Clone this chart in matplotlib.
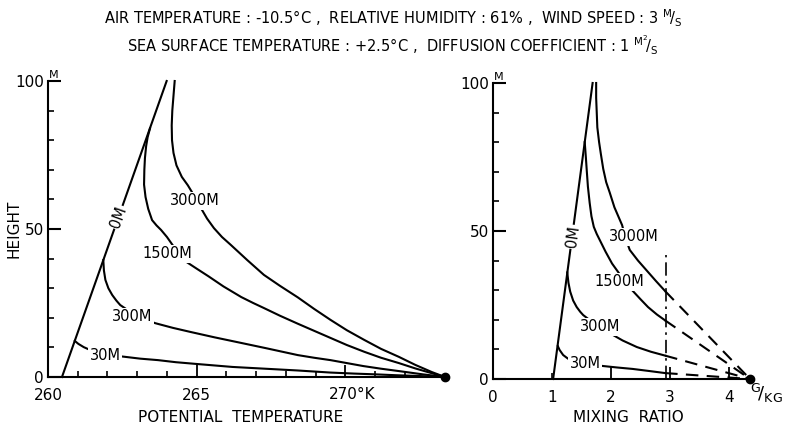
import matplotlib
matplotlib.use("Agg")
import matplotlib.pyplot as plt
from matplotlib.ticker import FixedLocator, FixedFormatter
import matplotlib.transforms as mtrans

plt.rcParams['font.family'] = ['DejaVu Sans']
plt.rcParams['mathtext.default'] = 'regular'

# ---------------- data: potential temperature panel (K, m) ----------------
pt_0m_T = [260.47, 263.99]
pt_0m_h = [0, 100]
pt_30_T = [260.9, 261.02, 261.2, 261.4, 261.6, 262.0, 262.6, 263.1, 263.7, 264.3, 265.0, 265.6, 266.2,
           267.3, 268.4, 269.5, 270.3, 271.0, 271.7, 272.3, 272.8, 273.35]
pt_30_h = [12.2, 11.2, 10.1, 9.2, 8.4, 7.5, 6.8, 6.2, 5.7, 5.0, 4.4, 3.9, 3.4,
           2.8, 2.2, 1.5, 1.15, 0.9, 0.6, 0.4, 0.2, 0]
pt_300_T = [261.86, 261.88, 261.93, 262.03, 262.16, 262.3, 262.43, 262.8, 263.2, 263.6, 264.2, 264.8,
            265.6, 266.5, 267.3, 267.85, 268.4, 268.95, 269.5, 270.05, 270.6, 271.2, 271.8, 272.6, 273.35]
pt_300_h = [39.5, 36, 32.8, 30, 27.7, 25.8, 24.3, 21.8, 19.8, 18.2, 16.6, 15.2,
            13.4, 11.5, 9.8, 8.6, 7.4, 6.5, 5.7, 4.7, 3.7, 2.8, 2.0, 0.9, 0]
pt_1500_T = [263.43, 263.35, 263.3, 263.26, 263.24, 263.23, 263.28, 263.37, 263.5, 263.65, 263.8, 264.0,
             264.3, 264.56, 265.0, 265.4, 265.9, 266.5, 266.9, 267.26, 267.8, 268.4, 268.95, 269.5,
             270.05, 270.64, 271.2, 271.8, 272.35, 272.9, 273.35]
pt_1500_h = [84, 81, 78, 74, 70, 65, 60.8, 56.8, 53, 51.2, 49.7, 47.3,
             43.0, 39.5, 36.6, 34.0, 30.6, 27, 25, 23.3, 20.7, 18.0, 15.6, 13.2,
             10.8, 8.5, 6.5, 4.7, 2.9, 1.3, 0]
pt_3000_T = [264.26, 264.22, 264.18, 264.16, 264.17, 264.22, 264.32, 264.5, 264.7, 264.9, 265.1, 265.35,
             265.58, 265.85, 266.15, 266.7, 267.26, 267.8, 268.4, 268.95, 269.5, 270.05, 270.64, 271.2,
             271.8, 272.35, 272.9, 273.35]
pt_3000_h = [100, 95, 90, 85, 80, 75.7, 71.5, 67.6, 64.8, 61.5, 57.8, 53.5,
             50.3, 47.3, 44.6, 39.5, 34.5, 30.8, 26.9, 23, 19.3, 15.8, 12.5, 9.5,
             6.8, 4.1, 1.7, 0]
pt_surface = 273.35

# ---------------- data: mixing ratio panel (g/kg, m) ----------------
mr_0m_w = [1.02, 1.69]
mr_0m_h = [0, 100]
mr_30_w = [1.10, 1.13, 1.19, 1.25, 1.30, 1.55, 1.86, 2.10, 2.37, 2.65, 2.92]
mr_30_h = [11.1, 9.8, 8.1, 7.2, 6.5, 5.4, 4.4, 3.9, 3.4, 2.7, 2.0]
mr_300_w = [1.26, 1.28, 1.31, 1.36, 1.42, 1.48, 1.53, 1.70, 1.98, 2.20, 2.44, 2.68, 2.92]
mr_300_h = [36, 32.5, 29.5, 26.5, 24.3, 22.7, 21.6, 19, 15.5, 13, 10.8, 9.2, 7.9]
mr_1500_w = [1.556, 1.575, 1.59, 1.61, 1.64, 1.67, 1.71, 1.76, 1.81, 1.91, 2.02, 2.20, 2.36, 2.50, 2.63, 2.78, 2.92]
mr_1500_h = [80, 75, 70.6, 65, 59.5, 55, 51.4, 49, 47, 43, 39, 34, 30, 27, 24.3, 21.8, 19.8]
mr_3000_w = [1.75, 1.75, 1.76, 1.77, 1.80, 1.83, 1.87, 1.92, 1.98, 2.06, 2.19, 2.25, 2.32, 2.46, 2.61, 2.76, 2.92]
mr_3000_h = [100, 95, 90, 85, 80, 76, 71, 66.5, 63, 58, 52, 47.5, 43.6, 40, 36.6, 33.2, 29.7]
mr_surface = 4.36
mr_cut_w = 2.93
mr_cut_top = 42

labels = ["30M", "300M", "1500M", "3000M"]
pt_label_pos = [(261.92, 7.1), (262.83, 20.3), (264.0, 41.6), (264.95, 59.5)]
mr_label_pos = [(1.56, 5.4), (1.81, 17.6), (2.15, 32.8), (2.39, 48.0)]

fig = plt.figure(figsize=(7.86, 4.32), dpi=100)
W, H = 786, 432

def ax_rect(l, r, top, bot):
    return [l / W, 1 - bot / H, (r - l) / W, (bot - top) / H]

ax1 = fig.add_axes(ax_rect(48, 445, 81, 377))
ax2 = fig.add_axes(ax_rect(493, 750, 83, 379))

LW = 1.5
for ax in (ax1, ax2):
    for s in ('top', 'right'):
        ax.spines[s].set_visible(False)
    for s in ('left', 'bottom'):
        ax.spines[s].set_linewidth(LW)
    ax.set_ylim(0, 100)
    ax.yaxis.set_major_locator(FixedLocator([0, 50, 100]))
    ax.yaxis.set_minor_locator(FixedLocator([10, 20, 30, 40, 60, 70, 80, 90]))
    ax.tick_params(axis='y', which='major', direction='in', length=9, width=1.5, labelsize=11, pad=3)
    ax.tick_params(axis='y', which='minor', direction='in', length=4, width=1.2)
    ax.tick_params(axis='x', which='major', direction='in', length=9, width=1.3, labelsize=11, pad=8)
    ax.tick_params(axis='x', which='minor', direction='in', length=4, width=1.2, labelsize=11, pad=8)
    ax.patch.set_alpha(0)

# ---- left panel ----
ax1.set_xlim(260, pt_surface)
ax1.xaxis.set_major_locator(FixedLocator([260, 265, 270]))
ax1.xaxis.set_minor_locator(FixedLocator([261, 262, 263, 264, 266, 267, 268, 269, 271, 272]))
ax1.xaxis.set_major_formatter(FixedFormatter(['260', '265', '']))
ax1.plot(pt_0m_T, pt_0m_h, color='black', lw=LW, clip_on=False)
for T, h in [(pt_30_T, pt_30_h), (pt_300_T, pt_300_h), (pt_1500_T, pt_1500_h), (pt_3000_T, pt_3000_h)]:
    ax1.plot(T, h, color='black', lw=LW, clip_on=False, solid_joinstyle='round')
ax1.plot([pt_surface], [0], 'o', color='black', ms=6, clip_on=False, zorder=5)
for lab, (x, y) in zip(labels, pt_label_pos):
    ax1.text(x, y, lab, fontsize=10.5, ha='center', va='center',
             bbox=dict(facecolor='white', edgecolor='none', pad=1.0), zorder=4)
ax1.text(262.36, 54, "0M", fontsize=10.5, rotation=70, ha='center', va='center',
         bbox=dict(facecolor='white', edgecolor='none', pad=0.8), zorder=4)
tr1 = mtrans.blended_transform_factory(ax1.transData, ax1.transAxes)
ax1.text(269.45, -0.035, "270°K", transform=tr1, fontsize=11, ha='left', va='top')
ax1.text(0.003, 1.005, "M", transform=ax1.transAxes, fontsize=8, ha='left', va='bottom')

# ---- right panel ----
ax2.set_xlim(0, mr_surface)
ax2.xaxis.set_major_locator(FixedLocator([0, 2, 3, 4]))
ax2.xaxis.set_major_formatter(FixedFormatter(['0', '2', '3', '4']))
ax2.xaxis.set_minor_locator(FixedLocator([1]))
ax2.xaxis.set_minor_formatter(FixedFormatter(['1']))
ax2.plot(mr_0m_w, mr_0m_h, color='black', lw=LW, clip_on=False)
for w, h in [(mr_30_w, mr_30_h), (mr_300_w, mr_300_h), (mr_1500_w, mr_1500_h), (mr_3000_w, mr_3000_h)]:
    ax2.plot(w, h, color='black', lw=LW, clip_on=False, solid_joinstyle='round')
    ax2.plot([w[-1], mr_surface], [h[-1], 0], color='black', lw=LW,
             linestyle=(0, (6, 4)), clip_on=False)
ax2.plot([mr_cut_w, mr_cut_w], [0, mr_cut_top], color='black', lw=1.2,
         linestyle=(0, (8, 3, 1.5, 3)))
ax2.plot([mr_surface], [0], 'o', color='black', ms=6, clip_on=False, zorder=5)
for lab, (x, y) in zip(labels, mr_label_pos):
    ax2.text(x, y, lab, fontsize=10.5, ha='center', va='center',
             bbox=dict(facecolor='white', edgecolor='none', pad=1.0), zorder=4)
ax2.text(1.36, 48, "0M", fontsize=10.5, rotation=82, ha='center', va='center',
         bbox=dict(facecolor='white', edgecolor='none', pad=0.8), zorder=4)
ax2.text(0.003, 1.005, "M", transform=ax2.transAxes, fontsize=8, ha='left', va='bottom')
ax2.text(mr_surface, -0.01, r"$^{G}\!/_{KG}$",
         transform=mtrans.blended_transform_factory(ax2.transData, ax2.transAxes),
         fontsize=13, ha='left', va='top')

# ---- texts ----
fig.text(14 / W, 1 - 229 / H, "HEIGHT", rotation=90, fontsize=11, ha='center', va='center')
fig.text(241 / W, 1 - 418 / H, "POTENTIAL  TEMPERATURE", fontsize=11, ha='center', va='center')
fig.text(628 / W, 1 - 418 / H, "MIXING  RATIO", fontsize=11, ha='center', va='center')
fig.text(0.5, 1 - 18 / H,
         r"AIR TEMPERATURE : -10.5°C ,  RELATIVE HUMIDITY : 61% ,  WIND SPEED : 3 $^{M}\!/_{S}$",
         fontsize=10.5, ha='center', va='center')
fig.text(0.5, 1 - 45 / H,
         r"SEA SURFACE TEMPERATURE : +2.5°C ,  DIFFUSION COEFFICIENT : 1 $^{M^2}\!/_{S}$",
         fontsize=10.5, ha='center', va='center')

fig.savefig("out.png", dpi=100)
